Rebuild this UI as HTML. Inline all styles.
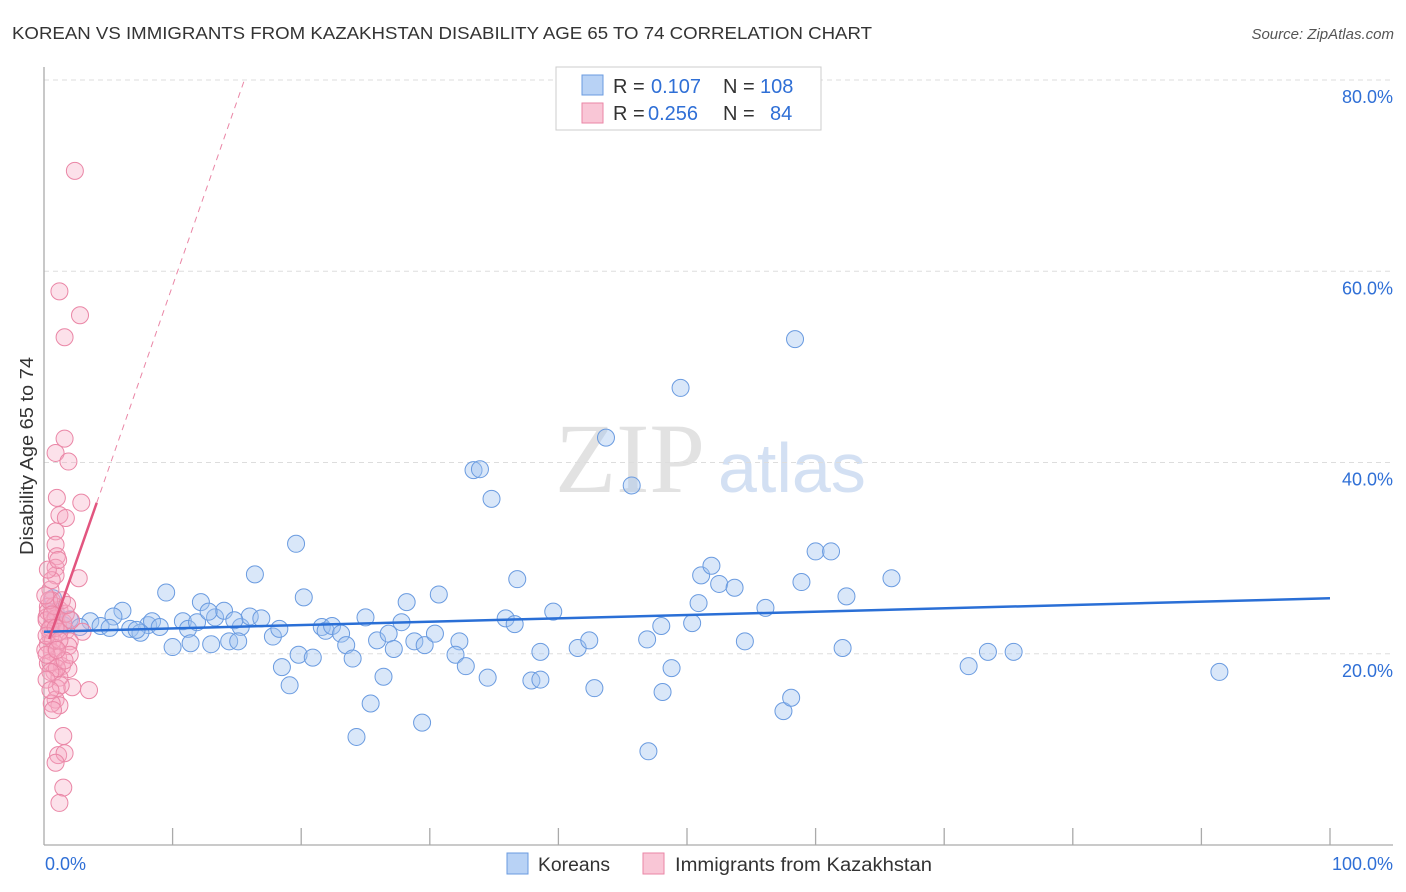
<!DOCTYPE html>
<html><head><meta charset="utf-8"><style>
body{margin:0;background:#fff;font-family:"Liberation Sans",sans-serif}
#wrap{position:relative;width:1406px;height:892px;overflow:hidden}
</style></head><body><div id="wrap">
<svg id="svg" width="1406" height="892" xmlns="http://www.w3.org/2000/svg">
<text x="12" y="39" font-size="17.5" fill="#333" textLength="860" lengthAdjust="spacingAndGlyphs">KOREAN VS IMMIGRANTS FROM KAZAKHSTAN DISABILITY AGE 65 TO 74 CORRELATION CHART</text>
<text x="1394" y="39" font-size="15" fill="#555" font-style="italic" text-anchor="end">Source: ZipAtlas.com</text>
<text x="555" y="492" font-size="100" fill="#e2e2e2" font-family="Liberation Serif,serif">ZIP</text>
<text x="718" y="492" font-size="70" fill="#d3e0f3">atlas</text>
<text transform="translate(33,456) rotate(-90)" font-size="18" fill="#333" text-anchor="middle" textLength="198" lengthAdjust="spacingAndGlyphs">Disability Age 65 to 74</text>
<g id="grid"></g><g id="marks"></g>
<rect x="556" y="67" width="265" height="63" fill="#fff" stroke="#ccc"/>
<rect x="582" y="75" width="21" height="20" fill="#b8d2f5" stroke="#6a9be0"/>
<rect x="582" y="103" width="21" height="20" fill="#f9c6d6" stroke="#ea86a6"/>
<g font-size="20" fill="#333">
<text x="613" y="93">R =</text><text x="651" y="93" fill="#2f6fd6">0.107</text><text x="723" y="93">N =</text><text x="760" y="93" fill="#2f6fd6">108</text>
<text x="613" y="120">R =</text><text x="648" y="120" fill="#2f6fd6">0.256</text><text x="723" y="120">N =</text><text x="770" y="120" fill="#2f6fd6">84</text>
</g>
<rect x="507" y="853" width="21" height="21" fill="#b8d2f5" stroke="#6a9be0"/>
<text x="538" y="871" font-size="19" fill="#333" textLength="72" lengthAdjust="spacingAndGlyphs">Koreans</text>
<rect x="643" y="853" width="21" height="21" fill="#f9c6d6" stroke="#ea86a6"/>
<text x="675" y="871" font-size="19" fill="#333" textLength="257" lengthAdjust="spacingAndGlyphs">Immigrants from Kazakhstan</text>
</svg></div>
<script>
const blueX=[58.4,49.5,43.7,45.7,33.4,33.9,34.8,19.6,16.4,9.5,12.2,20.2,28.2,30.7,36.8,51.1,51.9,52.5,53.7,60.0,61.2,65.9,58.9,62.4,56.1,50.9,39.6,35.9,36.6,6.1,5.4,3.6,1.5,4.4,6.7,8.1,8.4,9.0,10.8,11.2,11.9,13.3,14.0,15.3,16.0,16.9,17.8,18.3,21.6,21.9,22.4,23.1,23.5,25.0,25.9,26.8,27.2,27.8,28.8,29.6,30.4,32.3,32.0,32.8,34.5,38.6,41.5,42.4,46.9,48.0,50.4,54.5,62.1,10.0,11.4,13.0,14.4,15.1,18.5,19.8,20.9,24.0,26.4,19.1,25.4,24.3,29.4,37.9,38.6,42.8,48.1,48.8,47.0,57.5,58.1,71.9,73.4,75.4,91.4,0.7,0.9,2.0,2.8,7.5,7.2,5.1,12.8,14.8];
const blueY=[52.9,47.8,42.6,37.6,39.2,39.3,36.2,31.5,28.3,26.4,25.4,25.9,25.4,26.2,27.8,28.2,29.2,27.3,26.9,30.7,30.7,27.9,27.5,26.0,24.8,25.3,24.4,23.7,23.1,24.5,23.9,23.4,23.0,22.9,22.6,23.0,23.4,22.8,23.4,22.6,23.3,23.8,24.5,22.8,23.9,23.7,21.8,22.6,22.8,22.4,22.9,22.1,20.9,23.8,21.4,22.1,20.5,23.3,21.3,20.9,22.1,21.3,19.9,18.7,17.5,20.2,20.6,21.4,21.5,22.9,23.2,21.3,20.6,20.7,21.1,21.0,21.3,21.3,18.6,19.9,19.6,19.5,17.6,16.7,14.8,11.3,12.8,17.2,17.3,16.4,16.0,18.5,9.8,14.0,15.4,18.7,20.2,20.2,18.1,25.8,24.4,23.6,22.8,22.2,22.5,22.7,24.4,23.5];
const pinkX=[2.4,1.2,2.8,1.6,1.6,0.9,1.9,1.0,2.9,1.2,1.7,0.9,0.9,1.0,0.9,0.9,2.7,0.5,0.6,0.3,1.2,0.2,0.7,1.1,1.7,3.0,0.5,2.0,0.3,0.9,1.9,0.6,1.1,0.3,1.4,1.9,0.8,1.2,1.0,2.2,3.5,0.9,1.2,0.6,1.5,1.1,1.6,0.9,1.5,1.2,0.3,0.2,0.4,0.7,0.1,0.5,1.0,1.3,0.5,0.2,0.9,1.5,0.5,0.2,1.2,0.8,1.7,2.1,0.4,1.4,1.8,0.1,0.6,0.3,1.1,2.0,1.6,0.5,0.7,0.2,0.6,0.9,1.2,1.0];
const pinkY=[70.5,57.9,55.4,53.1,42.5,41.0,40.1,36.3,35.8,34.5,34.2,32.8,31.4,30.2,29.0,28.2,27.9,26.7,25.6,24.9,24.6,23.8,23.3,22.9,22.4,22.3,21.8,21.3,21.0,20.6,20.8,20.2,19.6,19.0,18.7,18.4,18.1,17.5,16.4,16.5,16.2,15.2,14.6,14.8,11.4,9.4,9.6,8.6,6.0,4.4,24.4,23.5,22.5,21.4,20.4,19.1,18.5,16.7,18.1,17.3,23.7,23.3,22.7,21.9,22.3,25.0,24.2,23.5,25.6,25.6,25.1,26.1,27.7,28.8,29.8,19.9,19.3,16.2,14.1,19.9,24.1,22.7,21.4,20.4];
const yTicks=[20,40,60,80];
const blueTrend=[22.3,25.8];
const pinkTrend=[20.0,3.85];
const NS='http://www.w3.org/2000/svg';
const L=44,R=1330,B=845,T=80;
const xs=v=>L+v/100*(R-L);
const ys=v=>B-v/80*(B-T);
function mk(tag,attrs,parent){const e=document.createElementNS(NS,tag);for(const k in attrs)e.setAttribute(k,attrs[k]);parent.appendChild(e);return e;}
const grid=document.getElementById('grid'),marks=document.getElementById('marks');
yTicks.forEach(t=>{
 const g=mk('line',{x1:L,x2:1393,y1:ys(t),y2:ys(t),stroke:'#ddd','stroke-dasharray':'5,4'},grid);
 
 
 const tx=mk('text',{x:1393,y:ys(t)+23,'font-size':18,fill:'#2f6fd6','text-anchor':'end'},grid);
 tx.textContent=t.toFixed(1)+'%';
 
 
});
let ax=mk('line',{x1:L,x2:L,y1:67,y2:B,stroke:'#aaa','stroke-width':1.3},grid);


ax=mk('line',{x1:L,x2:1393,y1:B,y2:B,stroke:'#aaa','stroke-width':1.3},grid);


for(let i=1;i<=10;i++){const t=mk('line',{x1:xs(i*10),x2:xs(i*10),y1:828,y2:B,stroke:'#aaa','stroke-width':1.3},grid);
 
 }
let lx=mk('text',{x:45,y:870,'font-size':18,fill:'#2f6fd6'},grid);lx.textContent='0.0%';


lx=mk('text',{x:1393,y:870,'font-size':18,fill:'#2f6fd6','text-anchor':'end'},grid);lx.textContent='100.0%';


blueX.forEach((x,i)=>{const c=mk('circle',{cx:xs(x),cy:ys(blueY[i]),r:8.5,fill:'rgba(160,196,240,0.4)',stroke:'#6a9be0','stroke-width':1},marks);
 
 });
pinkX.forEach((x,i)=>{const c=mk('circle',{cx:xs(x),cy:ys(pinkY[i]),r:8.5,fill:'rgba(246,170,196,0.35)',stroke:'#ea86a6','stroke-width':1},marks);
 
 });
let tl=mk('line',{x1:xs(0),y1:ys(blueTrend[0]),x2:xs(100),y2:ys(blueTrend[1]),stroke:'#2a6fd6','stroke-width':2.5},marks);


const pEnd=(80-pinkTrend[0])/pinkTrend[1];
tl=mk('line',{x1:xs(4.1),y1:ys(pinkTrend[0]+pinkTrend[1]*4.1),x2:xs(pEnd),y2:ys(80),stroke:'#ea86a6','stroke-width':1,'stroke-dasharray':'6,5'},marks);


tl=mk('line',{x1:xs(0.4),y1:ys(pinkTrend[0]+pinkTrend[1]*0.4),x2:xs(4.1),y2:ys(pinkTrend[0]+pinkTrend[1]*4.1),stroke:'#e2557f','stroke-width':2.5},marks);


</script></body></html>
